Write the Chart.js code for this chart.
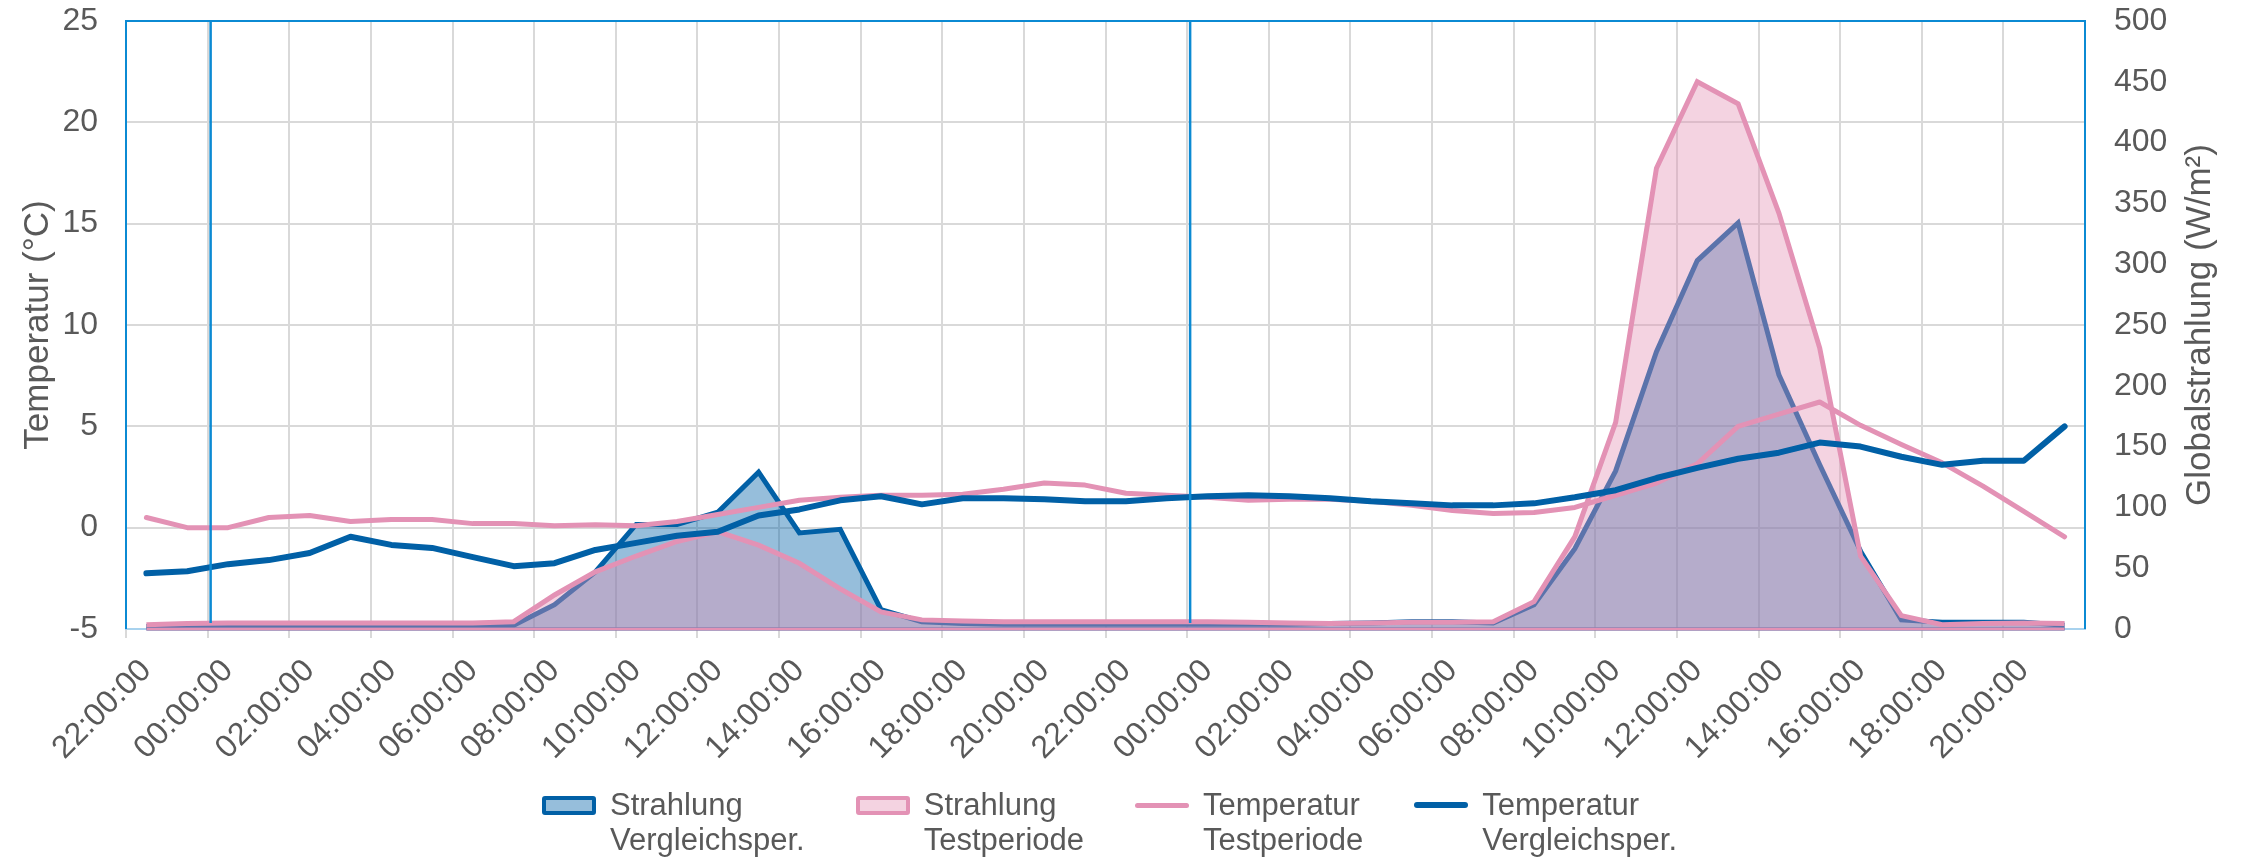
<!DOCTYPE html>
<html>
<head>
<meta charset="utf-8">
<script src="https://cdn.jsdelivr.net/npm/chart.js@4.4.1/dist/chart.umd.min.js"></script>
<style>
html,body{margin:0;padding:0;background:#ffffff;}
#wrap{position:relative;width:2242px;height:859px;overflow:hidden;}
#c{position:absolute;left:0;top:0;}
#legend{position:absolute;left:542px;top:787px;display:flex;gap:51px;font-family:'Liberation Sans',Arial,sans-serif;font-size:31px;line-height:35px;color:#595959;}
.item{display:flex;align-items:flex-start;}
.box{width:54px;height:19px;margin-top:9px;margin-right:14px;box-sizing:border-box;border:4px solid;border-radius:3px;flex:none;}
.ln{width:54px;margin-right:14px;border-radius:3px;flex:none;}
</style>
</head>
<body>
<div id="wrap">
<canvas id="c" width="2242" height="859"></canvas>
<div id="legend"></div>
</div>
<script>
// ---- data ----
const categories = [
 '22:00:00','23:00:00',
 '00:00:00','01:00:00','02:00:00','03:00:00','04:00:00','05:00:00','06:00:00','07:00:00',
 '08:00:00','09:00:00','10:00:00','11:00:00','12:00:00','13:00:00','14:00:00','15:00:00',
 '16:00:00','17:00:00','18:00:00','19:00:00','20:00:00','21:00:00','22:00:00','23:00:00',
 '00:00:00','01:00:00','02:00:00','03:00:00','04:00:00','05:00:00','06:00:00','07:00:00',
 '08:00:00','09:00:00','10:00:00','11:00:00','12:00:00','13:00:00','14:00:00','15:00:00',
 '16:00:00','17:00:00','18:00:00','19:00:00','20:00:00','21:00:00'
];
const strahlungVergleich = [
 2,3,3,3,3,3,3,3,3,3,
 20,47,86,86,96,129,79,82,16,6,
 4.5,4,4,4,4,4,4,4,4,4.5,
 5,6,6,5,20,66,130,228,303,334,
 209,135,64,7.5,5.5,5.5,5.5,3
];
const strahlungTest = [
 3.5,4.5,5,5,5,5,5,5,5,6,
 28,47,60,72,80,69,54,33,14,7.5,
 6.5,6,6,6,6,6,6,5.5,5,4.5,
 5,5.5,5.5,6,22.5,76,170,379,450,432,
 342,231,60,11,3.5,4.5,5,4.5
];
const tempTest = [
 0.5,0.0,0.0,0.5,0.6,0.3,0.4,0.4,0.2,0.2,
 0.1,0.15,0.1,0.3,0.65,1.0,1.35,1.5,1.6,1.6,
 1.65,1.9,2.2,2.1,1.7,1.6,1.5,1.35,1.4,1.4,
 1.3,1.1,0.85,0.7,0.75,1.0,1.6,2.2,3.15,5.0,
 5.6,6.2,5.05,4.1,3.2,2.05,0.8,-0.45
];
const tempVergleich = [
 -2.25,-2.15,-1.8,-1.6,-1.25,-0.45,-0.85,-1.0,-1.45,-1.9,
 -1.75,-1.1,-0.75,-0.4,-0.2,0.6,0.9,1.35,1.55,1.15,
 1.45,1.45,1.4,1.3,1.3,1.45,1.55,1.6,1.55,1.45,
 1.3,1.2,1.1,1.1,1.2,1.5,1.85,2.45,2.95,3.4,
 3.7,4.2,4.0,3.5,3.1,3.3,3.3,5.0
];
const seriesNames = [['Strahlung','Vergleichsper.'],['Strahlung','Testperiode'],['Temperatur','Testperiode'],['Temperatur','Vergleichsper.']];
const leftTitle = 'Temperatur (°C)';
const rightTitle = 'Globalstrahlung (W/m²)';
const tempTicks = {min:-5, max:25, step:5};
const radTicks = {min:0, max:500, step:50};

// ---- styles ----
const FONT = "'Liberation Sans', Arial, sans-serif";
const TXT = '#595959';
const BLUE = '#0160a6';
const PINK = '#e392b5';
const FRAME = '#0b8ad3';
Chart.defaults.font.family = FONT;
Chart.defaults.color = TXT;

const framePlugin = {
  id: 'frame',
  afterDatasetsDraw(chart) {
    const {ctx, chartArea: a, scales} = chart;
    const xs = scales.x, y1 = scales.y1;
    ctx.save();
    [[0, BLUE], [1, PINK]].forEach(([di, col]) => {
      const pts = chart.getDatasetMeta(di).data;
      const yb = y1.getPixelForValue(0);
      ctx.strokeStyle = col; ctx.lineWidth = 3;
      ctx.beginPath(); ctx.moveTo(pts[0].x, yb); ctx.lineTo(pts[pts.length-1].x, yb); ctx.stroke();
    });
    const half = (xs.getPixelForValue(1) - xs.getPixelForValue(0)) / 2;
    ctx.strokeStyle = FRAME; ctx.lineWidth = 2.5;
    categories.forEach((c, i) => {
      if (c === '00:00:00') {
        const x = xs.getPixelForValue(i) - half + 3;
        ctx.beginPath(); ctx.moveTo(x, a.top); ctx.lineTo(x, a.bottom - 6); ctx.stroke();
      }
    });
    ctx.lineWidth = 2;
    ctx.beginPath();
    ctx.moveTo(a.left, a.bottom); ctx.lineTo(a.left, a.top); ctx.lineTo(a.right, a.top); ctx.lineTo(a.right, a.bottom);
    ctx.stroke();
    ctx.restore();
  },
  afterDraw(chart) {
    const {ctx, chartArea: a, scales} = chart;
    ctx.save();
    ctx.font = '35px ' + FONT;
    ctx.fillStyle = TXT;
    ctx.textAlign = 'center';
    ctx.textBaseline = 'middle';
    ctx.translate(scales.y1.right - 42, (a.top + a.bottom) / 2);
    ctx.rotate(-Math.PI / 2);
    ctx.fillText(rightTitle, 0, 0);
    ctx.restore();
  }
};

const noPad = (s) => { s.paddingTop = 0; s.paddingBottom = 0; s.paddingLeft = 0; s.paddingRight = 0; };

const chart = new Chart(document.getElementById('c'), {
  type: 'line',
  data: {
    labels: categories,
    datasets: [
      { label: seriesNames[0].join(' '), data: strahlungVergleich, yAxisID: 'y1', order: 3,
        borderColor: BLUE, borderWidth: 5, backgroundColor: 'rgba(0,96,168,0.41)', fill: 'origin',
        pointRadius: 0, tension: 0 },
      { label: seriesNames[1].join(' '), data: strahlungTest, yAxisID: 'y1', order: 2,
        borderColor: PINK, borderWidth: 5, backgroundColor: 'rgba(227,145,180,0.4)', fill: 'origin',
        pointRadius: 0, tension: 0 },
      { label: seriesNames[2].join(' '), data: tempTest, yAxisID: 'y', order: 1,
        borderColor: PINK, borderWidth: 5, fill: false, pointRadius: 0, tension: 0,
        borderCapStyle: 'round', borderJoinStyle: 'round' },
      { label: seriesNames[3].join(' '), data: tempVergleich, yAxisID: 'y', order: 0,
        borderColor: BLUE, borderWidth: 6, fill: false, pointRadius: 0, tension: 0,
        borderCapStyle: 'round', borderJoinStyle: 'round' }
    ]
  },
  options: {
    responsive: false,
    animation: false,
    devicePixelRatio: 1,
    events: [],
    layout: { padding: { left: 12, right: 0, top: 21, bottom: 0 } },
    plugins: { legend: { display: false }, tooltip: { enabled: false } },
    scales: {
      x: {
        type: 'category',
        offset: true,
        grid: {
          offset: true,
          color: (c) => (c.index !== undefined && c.index % 2 === 0) ? '#d9d9d9' : 'rgba(0,0,0,0)',
          lineWidth: 2,
          tickLength: 9,
          drawTicks: true
        },
        border: { display: true, color: '#a8d2ee', width: 2 },
        ticks: {
          autoSkip: false, minRotation: 45, maxRotation: 45, padding: 14,
          color: TXT, font: { size: 32 },
          callback: (v, i) => (i % 2 === 0 ? categories[i] : '')
        },
        afterFit: (s) => { s.height = 230; noPad(s); }
      },
      y: {
        position: 'left',
        min: tempTicks.min, max: tempTicks.max,
        ticks: { stepSize: tempTicks.step, padding: 28, color: TXT, font: { size: 32 } },
        grid: { color: '#d9d9d9', lineWidth: 2, drawTicks: false },
        border: { display: false },
        title: { display: true, text: leftTitle, color: TXT, font: { size: 35 }, padding: { top: 5, bottom: 0 } },
        afterFit: (s) => { s.width = 114; noPad(s); }
      },
      y1: {
        position: 'right',
        min: radTicks.min, max: radTicks.max,
        ticks: { stepSize: radTicks.step, padding: 29, color: TXT, font: { size: 32 } },
        grid: { drawOnChartArea: false, drawTicks: false },
        border: { display: false },
        afterFit: (s) => { s.width = 157; noPad(s); }
      }
    }
  },
  plugins: [framePlugin]
});

// ---- HTML legend ----
const legendDefs = [
  { kind: 'box', border: BLUE, fill: 'rgba(0,96,168,0.41)' },
  { kind: 'box', border: PINK, fill: 'rgba(227,145,180,0.4)' },
  { kind: 'line', color: PINK, w: 5 },
  { kind: 'line', color: BLUE, w: 6 }
];
const lg = document.getElementById('legend');
legendDefs.forEach((d, i) => {
  const it = document.createElement('div'); it.className = 'item';
  const sw = document.createElement('div');
  if (d.kind === 'box') {
    sw.className = 'box'; sw.style.borderColor = d.border; sw.style.background = d.fill;
  } else {
    sw.className = 'ln'; sw.style.height = d.w + 'px'; sw.style.background = d.color;
    sw.style.marginTop = (18 - d.w / 2) + 'px';
  }
  const tx = document.createElement('div');
  tx.innerHTML = seriesNames[i][0] + '<br>' + seriesNames[i][1];
  it.appendChild(sw); it.appendChild(tx); lg.appendChild(it);
});
</script>
</body>
</html>
